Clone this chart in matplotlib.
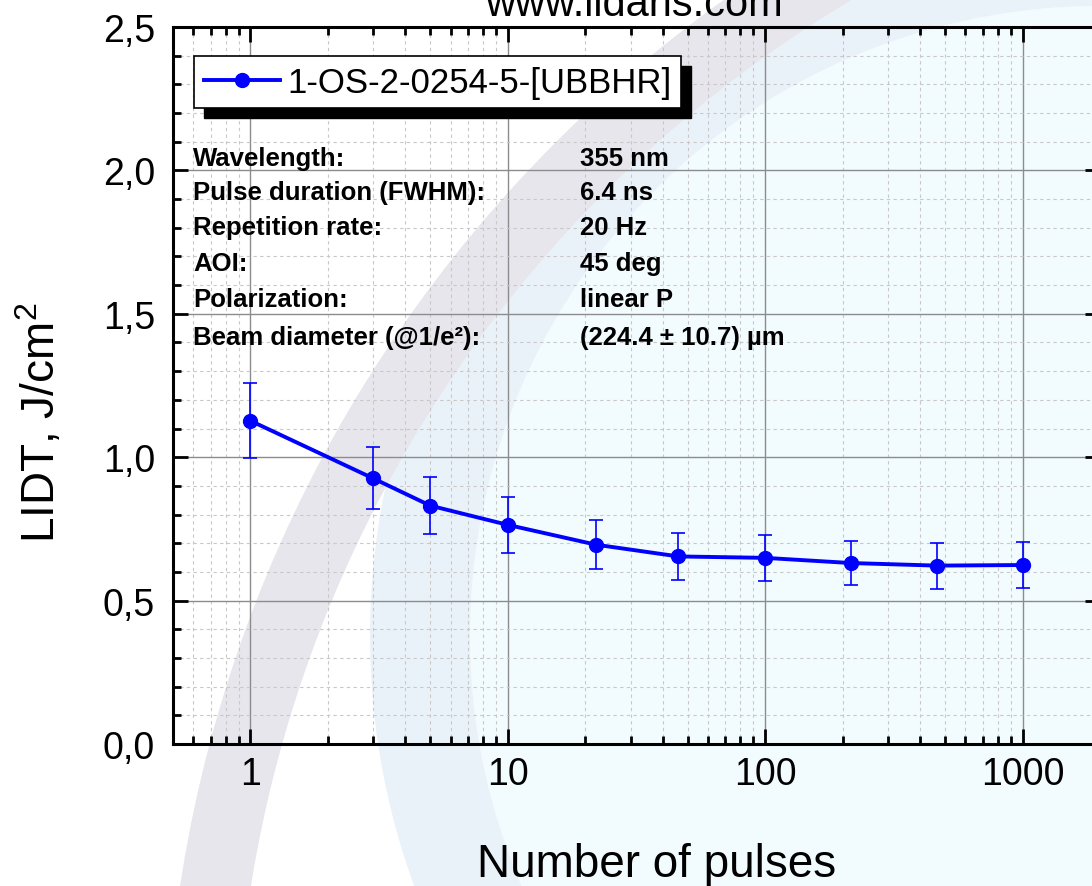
import matplotlib
matplotlib.use('Agg')
import matplotlib.pyplot as plt
from matplotlib.patches import Wedge, Circle, Rectangle
from matplotlib.ticker import FixedLocator, LogLocator, NullFormatter
from matplotlib.transforms import offset_copy

plt.rcParams['font.family'] = ['Liberation Sans', 'DejaVu Sans']
plt.rcParams['mathtext.fontset'] = 'custom'
plt.rcParams['mathtext.rm'] = 'Liberation Sans'
plt.rcParams['mathtext.it'] = 'Liberation Sans'

# data
pulses = [1, 3, 5, 10, 22, 46, 100, 215, 464, 1000]
lidt = [1.127, 0.926, 0.831, 0.764, 0.695, 0.654, 0.649, 0.631, 0.622, 0.624]
lidt_err = [0.13, 0.108, 0.10, 0.097, 0.086, 0.083, 0.079, 0.077, 0.08, 0.08]
series_name = '1-OS-2-0254-5-[UBBHR]'

x_ticks = [1, 10, 100, 1000]
x_ticklabels = ['1', '10', '100', '1000']
y_ticks = [0.0, 0.5, 1.0, 1.5, 2.0, 2.5]
y_ticklabels = ['0,0', '0,5', '1,0', '1,5', '2,0', '2,5']

param_names = ['Wavelength:', 'Pulse duration (FWHM):', 'Repetition rate:',
               'AOI:', 'Polarization:', 'Beam diameter (@1/e²):']
param_values = ['355 nm', '6.4 ns', '20 Hz', '45 deg', 'linear P',
                '(224.4 ± 10.7) µm']

W, H = 1092, 887
fig = plt.figure(figsize=(W / 100, H / 100), dpi=100)

# faint logo watermark in the background (pixel units / 100 = inches)
px = fig.dpi_scale_trans
fig.add_artist(Circle((11.0, 2.5), 6.3, transform=px, color='#f2fbfd', zorder=-3, lw=0))
fig.add_artist(Wedge((11.0, 2.5), 7.3, 80, 260, width=1.0, transform=px,
                     color='#eaf2f9', zorder=-2, lw=0))
fig.add_artist(Wedge((15.0, -2.0), 13.35, 95, 180, width=0.7, transform=px,
                     color='#e6e6ec', zorder=-2, lw=0))

ax = fig.add_axes([173 / W, 142 / H, 927 / W, 717 / H])
ax.patch.set_facecolor('none')

ax.errorbar(pulses, lidt, yerr=lidt_err, fmt='none', ecolor='#0000ff',
            elinewidth=1.2, capsize=5, capthick=1.2, zorder=3)
line, = ax.plot(pulses, lidt, '-o', color='#0000ff', lw=2.8, ms=10, zorder=4,
                label=series_name)

ax.set_xscale('log')
ax.set_xlim(0.5, 2000)
ax.set_ylim(0, 2.5)

ax.xaxis.set_major_locator(FixedLocator(x_ticks))
ax.set_xticklabels(x_ticklabels)
ax.xaxis.set_minor_locator(LogLocator(base=10, subs=range(2, 10)))
ax.xaxis.set_minor_formatter(NullFormatter())
ax.set_yticks(y_ticks)
ax.set_yticklabels(y_ticklabels)
ax.yaxis.set_minor_locator(FixedLocator([i / 10 for i in range(26)]))

ax.tick_params(which='both', direction='in', top=True, right=True, width=2)
ax.tick_params(which='major', length=11, labelsize=27)
ax.tick_params(which='minor', length=6)
ax.tick_params(axis='x', which='major', pad=9)
ax.tick_params(axis='y', which='major', pad=13)
for s in ax.spines.values():
    s.set_linewidth(2.2)

ax.grid(which='major', color='#8c8c8c', lw=1.0, zorder=1)
ax.grid(which='minor', color='#c8c8c8', lw=0.8, ls=(0, (3, 3)), zorder=1)
ax.set_axisbelow(True)

leg = ax.legend(handles=[line], loc='upper left', bbox_to_anchor=(0.0227, 0.9596),
                borderaxespad=0, fontsize=25, fancybox=False, framealpha=1,
                edgecolor='black', borderpad=0.28, handlelength=2.2,
                handletextpad=0.2)
leg.get_frame().set_linewidth(1.2)
leg.set_zorder(6)

# hard black drop shadow behind the legend box
fig.canvas.draw()
bb = leg.get_frame().get_window_extent().transformed(ax.transAxes.inverted())
ax.add_patch(Rectangle((bb.x0, bb.y0), bb.width, bb.height, color='black',
                       transform=offset_copy(ax.transAxes, fig=fig, x=10, y=-10, units='dots'),
                       clip_on=False, zorder=5.5))

# parameter table
row_y = [159, 193, 228, 264, 300, 338]
for name, val, yy in zip(param_names, param_values, row_y):
    ax.text((193 - 173) / 927, (745 - yy) / 717, name, transform=ax.transAxes,
            fontsize=18.5, fontweight='bold', va='center', ha='left', zorder=7)
    ax.text((580 - 173) / 927, (745 - yy) / 717, val, transform=ax.transAxes,
            fontsize=18.5, fontweight='bold', va='center', ha='left', zorder=7)

fig.text(634 / W, 1 - 16 / H, 'www.lidaris.com', ha='center', va='baseline', fontsize=30)
fig.text(657 / W, 10 / H, 'Number of pulses', ha='center', va='baseline', fontsize=33)
fig.text(40 / W, 464 / H, r'LIDT, J/cm$^2$', rotation=90, ha='center', va='center',
         fontsize=33)

fig.savefig('out.png', dpi=100)
